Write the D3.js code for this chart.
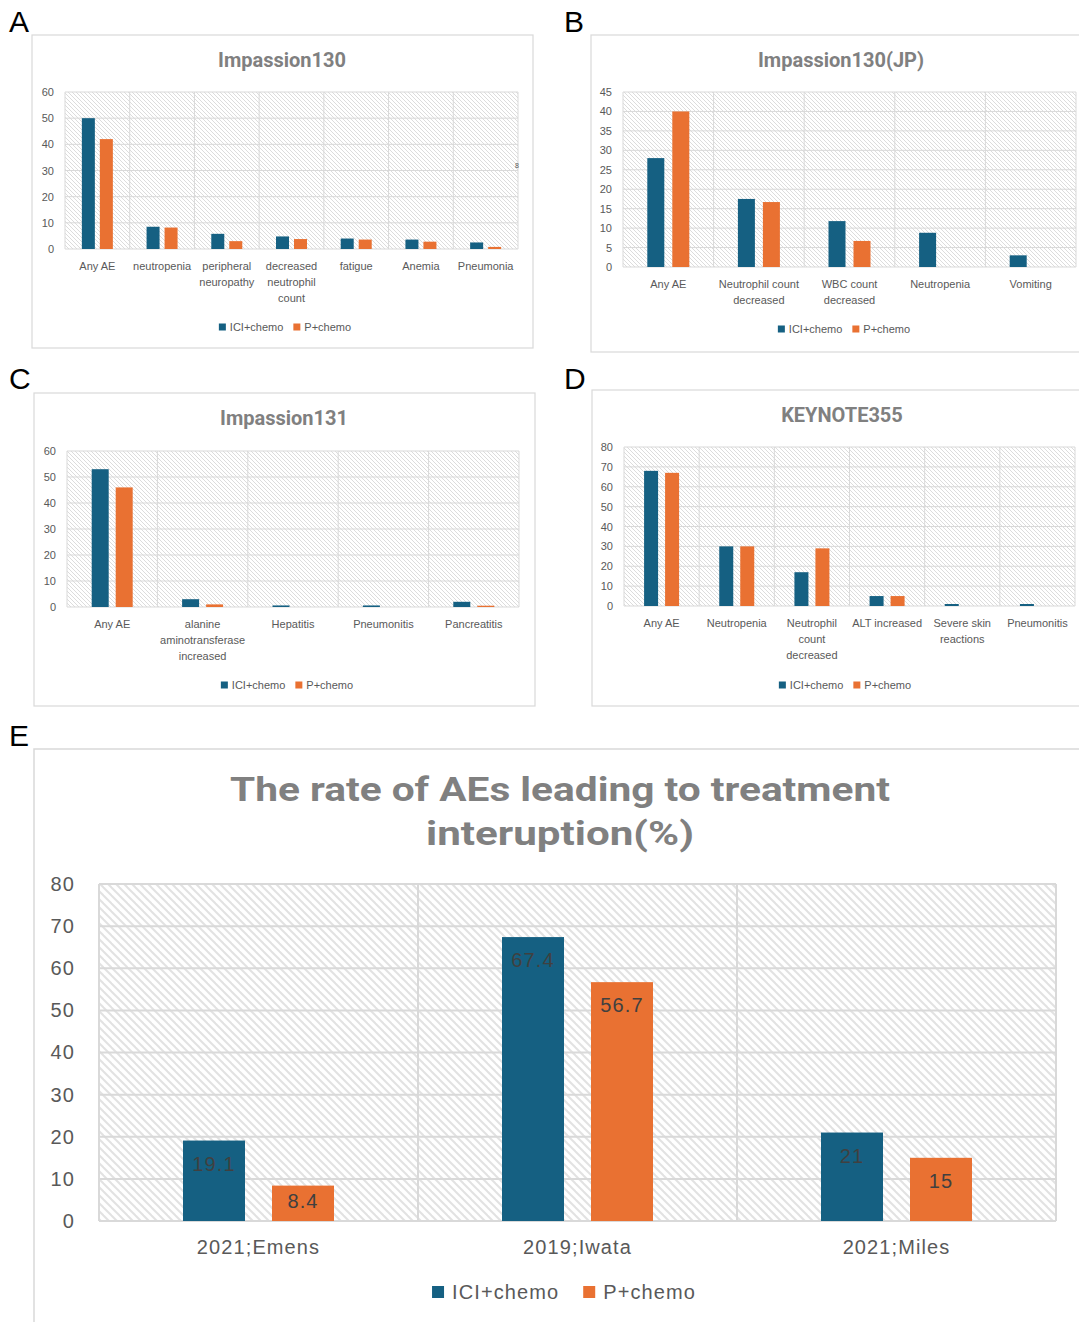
<!DOCTYPE html>
<html><head><meta charset="utf-8">
<script src="https://cdn.jsdelivr.net/npm/d3@7"></script>
<style>
body{margin:0;background:#fff;}
svg{display:block;font-family:"Liberation Sans",Arial,sans-serif;}
</style>
</head><body>
<svg id="chart" width="1079" height="1322"></svg>
<script>
// ---------------- DATA ----------------
const seriesNames = ["ICI+chemo", "P+chemo"];
const seriesColors = ["#156082", "#E97132"];

const aTitle = "Impassion130";
const aCategories = ["Any AE", "neutropenia", "peripheral\nneuropathy", "decreased\nneutrophil\ncount", "fatigue", "Anemia", "Pneumonia"];
const aICI = [50, 8.5, 5.8, 4.8, 4, 3.6, 2.5];
const aP = [42, 8.2, 3, 3.8, 3.6, 2.8, 0.8];
const aTicks = [0, 10, 20, 30, 40, 50, 60];

const bTitle = "Impassion130(JP)";
const bCategories = ["Any AE", "Neutrophil count\ndecreased", "WBC count\ndecreased", "Neutropenia", "Vomiting"];
const bICI = [28, 17.5, 11.8, 8.8, 3];
const bP = [40, 16.7, 6.7, 0, 0];
const bTicks = [0, 5, 10, 15, 20, 25, 30, 35, 40, 45];

const cTitle = "Impassion131";
const cCategories = ["Any AE", "alanine\naminotransferase\nincreased", "Hepatitis", "Pneumonitis", "Pancreatitis"];
const cICI = [53, 3, 0.6, 0.6, 2];
const cP = [46, 1, 0, 0, 0.5];
const cTicks = [0, 10, 20, 30, 40, 50, 60];

const dTitle = "KEYNOTE355";
const dCategories = ["Any AE", "Neutropenia", "Neutrophil\ncount\ndecreased", "ALT increased", "Severe skin\nreactions", "Pneumonitis"];
const dICI = [68, 30, 17, 5, 1, 1];
const dP = [67, 30, 29, 5, 0, 0];
const dTicks = [0, 10, 20, 30, 40, 50, 60, 70, 80];

const eTitle = ["The rate of AEs leading to treatment", "interuption(%)"];
const eCategories = ["2021;Emens", "2019;Iwata", "2021;Miles"];
const eICI = [19.1, 67.4, 21];
const eP = [8.4, 56.7, 15];
const eTicks = [0, 10, 20, 30, 40, 50, 60, 70, 80];

const strayNote = "8";
const strayNoteValue = 31;

// ---------------- LAYOUT ----------------
const svg = d3.select("#chart");
const defs = svg.append("defs");
const gridColor = "#d9d9d9";
const textColor = "#595959";
const titleColor = "#808080";

function makePattern(id, size, sw, color) {
  const p = defs.append("pattern").attr("id", id)
    .attr("patternUnits", "userSpaceOnUse").attr("width", size).attr("height", size);
  p.append("rect").attr("width", size).attr("height", size).attr("fill", "#fff");
  [[-1, -1, size + 1, size + 1], [-size - 1, -1, 1, size + 1], [size - 1, -1, 2 * size + 1, size + 1]]
    .forEach(([x1, y1, x2, y2]) => {
      p.append("line").attr("x1", x1).attr("y1", y1).attr("x2", x2).attr("y2", y2)
        .attr("stroke", color).attr("stroke-width", sw);
    });
}
makePattern("hatchSmall", 4, 1, "#dcdcdc");
makePattern("hatchBig", 8, 2, "#e2e2e2");

function drawPanel(cfg) {
  const g = svg.append("g");
  const ls = cfg.letterSpacing || 0;
  svg.append("text").attr("x", cfg.letter[1]).attr("y", cfg.letter[2])
    .attr("font-size", cfg.letterSize).attr("fill", "#000").text(cfg.letter[0]);
  const [fx0, fy0, fx1, fy1] = cfg.frame;
  g.append("rect").attr("x", fx0).attr("y", fy0).attr("width", fx1 - fx0).attr("height", fy1 - fy0)
    .attr("fill", "#fff").attr("stroke", gridColor).attr("stroke-width", cfg.frameW);
  cfg.title.forEach((t, i) => {
    const tt = g.append("text").attr("x", cfg.titleX).attr("y", cfg.titleY + i * cfg.titleLH)
      .attr("text-anchor", "middle").attr("font-size", cfg.titleSize)
      .attr("font-family", cfg.titleFont).attr("font-weight", "bold").attr("fill", titleColor).text(t);
    if (cfg.titleLens) tt.attr("textLength", cfg.titleLens[i]).attr("lengthAdjust", "spacingAndGlyphs");
  });
  const [px0, py0, px1, py1] = cfg.plot;
  const x = d3.scaleBand().domain(cfg.categories).range([px0, px1]).paddingInner(0).paddingOuter(0);
  const y = d3.scaleLinear().domain([0, d3.max(cfg.ticks)]).range([py1, py0]);
  g.append("rect").attr("x", px0).attr("y", py0).attr("width", px1 - px0).attr("height", py1 - py0)
    .attr("fill", `url(#${cfg.pattern})`);
  g.append("g").selectAll("line").data(cfg.ticks).join("line")
    .attr("x1", px0).attr("x2", px1).attr("y1", d => y(d)).attr("y2", d => y(d))
    .attr("stroke", gridColor).attr("stroke-width", cfg.gridW);
  const bounds = cfg.categories.map(c => x(c)).concat([px1]);
  g.append("g").selectAll("line").data(bounds).join("line")
    .attr("x1", d => d).attr("x2", d => d).attr("y1", py0).attr("y2", py1)
    .attr("stroke", gridColor).attr("stroke-width", cfg.gridW);
  const rows = [];
  cfg.categories.forEach((c, ci) => {
    cfg.series.forEach((vals, si) => rows.push({ c, si, v: vals[ci] }));
  });
  const bw = cfg.barW, gap = cfg.gap;
  const barX = d => x(d.c) + x.bandwidth() / 2 + (d.si === 0 ? -(gap / 2 + bw) : gap / 2);
  g.append("g").selectAll("rect").data(rows.filter(d => d.v > 0)).join("rect")
    .attr("x", barX).attr("width", bw)
    .attr("y", d => y(d.v)).attr("height", d => y(0) - y(d.v))
    .attr("fill", d => seriesColors[d.si]);
  if (cfg.barLabels) {
    g.append("g").selectAll("text").data(rows).join("text")
      .attr("x", d => barX(d) + bw / 2)
      .attr("y", d => {
        const h = y(0) - y(d.v);
        return y(d.v) + Math.min(cfg.labelOffset, h / 2 - 2);
      })
      .attr("dy", "0.35em").attr("text-anchor", "middle")
      .attr("font-size", cfg.labelSize).attr("fill", "#404040").attr("letter-spacing", ls)
      .text(d => d.v);
  }
  const ya = g.append("g").attr("transform", `translate(${px0},0)`)
    .call(d3.axisLeft(y).tickValues(cfg.ticks).tickSize(0).tickPadding(cfg.tickPad).tickFormat(d3.format("d")));
  ya.select(".domain").remove();
  ya.selectAll("text").attr("font-size", cfg.tickSize).attr("fill", textColor)
    .attr("font-family", "inherit").attr("letter-spacing", ls);
  const xa = g.append("g").attr("transform", `translate(0,${py1})`)
    .call(d3.axisBottom(x).tickSize(0).tickPadding(0));
  xa.select(".domain").remove();
  xa.selectAll("text").each(function (d) {
    const t = d3.select(this);
    t.text(null).attr("y", cfg.catDY).attr("dy", null)
      .attr("font-size", cfg.catSize).attr("fill", textColor).attr("font-family", "inherit")
      .attr("letter-spacing", ls);
    d.split("\n").forEach((line, i) => {
      t.append("tspan").attr("x", 0).attr("y", cfg.catDY + i * cfg.catLH).text(line);
    });
  });
  const lg = g.append("g");
  const items = seriesNames.map((n, i) => {
    const it = lg.append("g");
    it.append("rect").attr("width", cfg.sq).attr("height", cfg.sq).attr("fill", seriesColors[i]);
    const tx = it.append("text").attr("x", cfg.sq + cfg.sqGap).attr("y", cfg.sq / 2).attr("dy", "0.36em")
      .attr("font-size", cfg.legendSize).attr("fill", textColor).attr("letter-spacing", ls).text(n);
    return { it, w: cfg.sq + cfg.sqGap + tx.node().getComputedTextLength() };
  });
  const total = d3.sum(items, d => d.w) + cfg.itemGap * (items.length - 1);
  let cx = cfg.legendCX - total / 2;
  items.forEach(d => {
    d.it.attr("transform", `translate(${cx},${cfg.legendY - cfg.sq / 2})`);
    cx += d.w + cfg.itemGap;
  });
  return { g, x, y };
}

const small = {
  letterSize: 30, frameW: 1.2, titleSize: 20, titleFont: "Roboto, 'Liberation Sans', sans-serif", titleLH: 0,
  pattern: "hatchSmall", gridW: 1, tickSize: 11, tickPad: 11, catSize: 11, catLH: 16,
  legendSize: 11, sq: 7, sqGap: 4, itemGap: 10
};

const pA = drawPanel(Object.assign({}, small, {
  letter: ["A", 9, 32], frame: [32, 35, 533, 348], title: [aTitle], titleX: 282, titleY: 67,
  plot: [65, 92, 518, 249], categories: aCategories, series: [aICI, aP], ticks: aTicks,
  barW: 13, gap: 5, catDY: 21, legendY: 327, legendCX: 285
}));
pA.g.append("text").attr("x", pA.x.range()[1] - 3).attr("y", pA.y(strayNoteValue)).attr("font-size", 7)
  .attr("fill", textColor).text(strayNote);

drawPanel(Object.assign({}, small, {
  letter: ["B", 564, 32], frame: [591, 35, 1090, 352], title: [bTitle], titleX: 841, titleY: 67,
  plot: [623, 92, 1076, 267], categories: bCategories, series: [bICI, bP], ticks: bTicks,
  barW: 17, gap: 8, catDY: 21, legendY: 329, legendCX: 844
}));

drawPanel(Object.assign({}, small, {
  letter: ["C", 9, 389], frame: [34, 393, 535, 706], title: [cTitle], titleX: 284, titleY: 425,
  plot: [67, 451, 519, 607], categories: cCategories, series: [cICI, cP], ticks: cTicks,
  barW: 17, gap: 7, catDY: 21, legendY: 685, legendCX: 287
}));

drawPanel(Object.assign({}, small, {
  letter: ["D", 564, 389], frame: [592, 390, 1090, 706], title: [dTitle], titleX: 842, titleY: 422,
  plot: [624, 447, 1075, 606], categories: dCategories, series: [dICI, dP], ticks: dTicks,
  barW: 14, gap: 7, catDY: 21, legendY: 685, legendCX: 845
}));

drawPanel({
  letterSize: 30, frameW: 1.5, letter: ["E", 9, 746], frame: [34, 749, 1095, 1340],
  title: eTitle, titleX: 560, titleY: 801, titleLH: 44, titleSize: 33,
  titleFont: "Roboto, 'Liberation Sans', sans-serif", titleLens: [660, 268],
  plot: [99, 884, 1056, 1221], categories: eCategories, series: [eICI, eP], ticks: eTicks,
  pattern: "hatchBig", gridW: 2, tickSize: 20, tickPad: 24, catSize: 20, catLH: 24, catDY: 33,
  barW: 62, gap: 27, barLabels: true, labelOffset: 23, labelSize: 20, letterSpacing: 1.1,
  legendSize: 20, sq: 12, sqGap: 8, itemGap: 24, legendY: 1292, legendCX: 564
});
</script>
</body></html>
